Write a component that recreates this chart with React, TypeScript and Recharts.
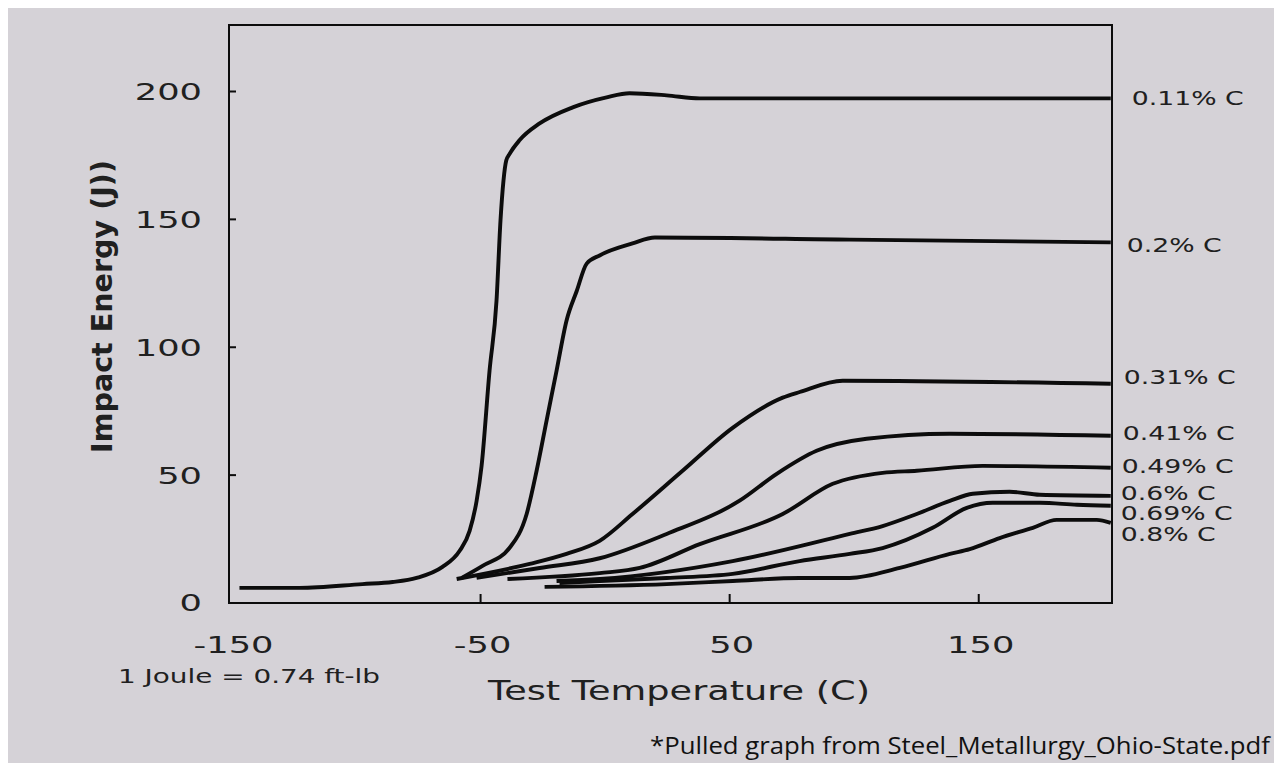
import React from 'react';
import { LineChart, Line, XAxis, YAxis, ReferenceArea, LabelList } from 'recharts';

// ---- data ----
const seriesNames = ['0.11% C', '0.2% C', '0.31% C', '0.41% C', '0.49% C', '0.6% C', '0.69% C', '0.8% C'];

const temp011 = [-146.8, -122.7, -97.4, -85.3, -75.7, -65.3, -58.4, -54.4, -51.6, -49.6, -46.4, -43.6, -42.0, -40.8, -39.7, -38.4, -34.3, -26.3, -13.0, 0.6, 9.8, 24.7, 38.0, 203];
const energy011 = [5.9, 5.9, 7.4, 8.2, 9.8, 14.1, 20.4, 28.2, 39.9, 53.6, 90.8, 118.2, 149.6, 165.2, 173.0, 175.5, 181.0, 187.5, 193.8, 197.7, 199.3, 198.5, 197.3, 197.3];

const temp02 = [-57.6, -49.2, -38.4, -31.5, -27.5, -23.5, -19.5, -15.5, -11.4, -7.4, -2.2, 11.0, 20.0, 98.2, 203];
const energy02 = [9.8, 14.5, 21.5, 34.8, 51.7, 71.3, 90.8, 110.4, 122.0, 132.7, 135.9, 140.6, 142.9, 142.1, 141.0];

const temp031 = [-59.6, -30.3, -15.5, -2.2, 11.0, 31.1, 51.2, 71.3, 78.1, 95.4, 203];
const energy031 = [9.4, 15.3, 19.2, 24.3, 34.8, 51.7, 68.5, 80.3, 82.5, 86.9, 85.7];

const temp041 = [-51.6, -26.3, -2.2, 24.7, 54.0, 68.9, 84.9, 105.0, 138.4, 203];
const energy041 = [9.8, 13.7, 17.5, 27.0, 40.0, 50.5, 59.5, 64.2, 66.2, 65.4];

const temp049 = [-39.2, -2.2, 13.9, 38.0, 71.3, 91.4, 111.4, 125.1, 151.6, 203];
const energy049 = [9.4, 11.7, 13.7, 23.0, 34.8, 46.6, 50.9, 51.7, 53.6, 52.9];

const temp06 = [-19.5, -2.2, 51.2, 91.4, 98.2, 111.4, 125.1, 138.4, 147.6, 162.4, 174.5, 203];
const energy06 = [8.6, 9.4, 16.4, 25.4, 27.0, 30.1, 34.8, 39.9, 42.7, 43.5, 42.3, 41.9];

const temp069 = [-18.3, -2.2, 24.7, 51.2, 78.1, 98.2, 111.4, 131.5, 145.2, 155.6, 174.5, 189.4, 203];
const energy069 = [7.8, 8.6, 9.8, 11.4, 16.4, 19.2, 21.5, 29.4, 37.2, 39.2, 39.2, 38.4, 38.0];

const temp08 = [-24.3, 24.7, 51.2, 78.1, 98.2, 118.3, 138.4, 146.4, 158.4, 171.7, 181.3, 197.4, 203];
const energy08 = [6.3, 7.4, 8.6, 9.8, 9.8, 13.7, 19.2, 21.1, 25.4, 29.4, 32.5, 32.5, 31.3];

const xTicks = [-150, -50, 50, 150];
const yTicks = [0, 50, 100, 150, 200];

const allTemps = [temp011, temp02, temp031, temp041, temp049, temp06, temp069, temp08];
const allEnergies = [energy011, energy02, energy031, energy041, energy049, energy06, energy069, energy08];

const seriesData = allTemps.map((ts, s) => ts.map((t, i) => ({ t, e: allEnergies[s][i] })));

// ---- styles ----
const INK = '#0c0c0c';
const TEXT = '#202020';
const BG = '#d5d2d7';
const labelOffsets = [
  { dx: 21, dy: 0 },
  { dx: 16, dy: 3 },
  { dx: 13, dy: -7 },
  { dx: 12, dy: -3 },
  { dx: 11, dy: -1 },
  { dx: 10, dy: -3 },
  { dx: 10, dy: 7 },
  { dx: 10, dy: 11 },
];

const YTick = (props: any) => {
  const { x, y, payload } = props;
  return (
    <g>
      {payload.value !== 0 && <line x1={x} x2={x + 7} y1={y} y2={y} stroke={INK} strokeWidth={2} />}
      <text
        transform={`translate(${x - 27},${y}) scale(1.5,1)`}
        textAnchor="end"
        dy="0.36em"
        fontSize={23.5}
        fontFamily="DejaVu Sans"
        fill={TEXT}
      >
        {payload.value}
      </text>
    </g>
  );
};

const XTick = (props: any) => {
  const { x, y, payload } = props;
  return (
    <g>
      {payload.value !== -150 && <line x1={x} x2={x} y1={y} y2={y - 9} stroke={INK} strokeWidth={2} />}
      <text
        transform={`translate(${x + 2},${y + 42}) scale(1.5,1)`}
        textAnchor="middle"
        dy="0.36em"
        fontSize={23.5}
        fontFamily="DejaVu Sans"
        fill={TEXT}
      >
        {payload.value}
      </text>
    </g>
  );
};

const makeSeriesLabel = (s: number) => (props: any) => {
  const { x, y, index } = props;
  if (index !== seriesData[s].length - 1) return null;
  const o = labelOffsets[s];
  return (
    <text
      transform={`translate(${x + o.dx},${y + o.dy}) scale(1.42,1)`}
      textAnchor="start"
      dy="0.36em"
      fontSize={18.8}
      fontFamily="DejaVu Sans"
      fill={TEXT}
    >
      {seriesNames[s]}
    </text>
  );
};

export default function App() {
  return (
    <div style={{ width: 1266, height: 755, background: BG }}>
      <LineChart width={1266} height={755} margin={{ top: 17, right: 162, bottom: 130, left: 161 }}>
        <XAxis
          type="number"
          dataKey="t"
          domain={[-151, 203.5]}
          ticks={xTicks}
          allowDataOverflow
          axisLine={false}
          tickLine={false}
          tickSize={0}
          tickMargin={0}
          height={30}
          tick={<XTick />}
          interval={0}
        />
        <YAxis
          type="number"
          domain={[0, 226]}
          ticks={yTicks}
          allowDataOverflow
          axisLine={false}
          tickLine={false}
          tickSize={0}
          tickMargin={0}
          width={60}
          tick={<YTick />}
          interval={0}
        />
        <ReferenceArea x1={-151} x2={203.5} y1={0} y2={226} fill="none" fillOpacity={0} stroke={INK} strokeWidth={2} />
        {seriesData.map((d, s) => (
          <Line
            key={seriesNames[s]}
            data={d}
            dataKey="e"
            type="monotone"
            stroke={INK}
            strokeWidth={3.9}
            dot={false}
            activeDot={false}
            isAnimationActive={false}
          >
            <LabelList dataKey="e" content={makeSeriesLabel(s)} />
          </Line>
        ))}
        <g>
          <text
            x={104}
            y={298.5}
            transform="rotate(-90 104 298.5)"
            textAnchor="middle"
            fontSize={29}
            fontWeight="bold"
            fontFamily="DejaVu Sans"
            fill={TEXT}
            textLength={293}
            lengthAdjust="spacingAndGlyphs"
          >
            Impact Energy (J))
          </text>
          <text
            x={480}
            y={692}
            fontSize={27}
            fontFamily="DejaVu Sans"
            fill={TEXT}
            textLength={382}
            lengthAdjust="spacingAndGlyphs"
          >
            Test Temperature (C)
          </text>
          <text
            x={110}
            y={675}
            fontSize={19.5}
            fontFamily="DejaVu Sans"
            fill={TEXT}
            textLength={262}
            lengthAdjust="spacingAndGlyphs"
          >
            1 Joule = 0.74 ft-lb
          </text>
          <text
            x={642}
            y={746}
            fontSize={24.5}
            fontFamily="Open Sans"
            fill="#111"
            textLength={620}
            lengthAdjust="spacingAndGlyphs"
          >
            *Pulled graph from Steel_Metallurgy_Ohio-State.pdf
          </text>
        </g>
      </LineChart>
    </div>
  );
}
